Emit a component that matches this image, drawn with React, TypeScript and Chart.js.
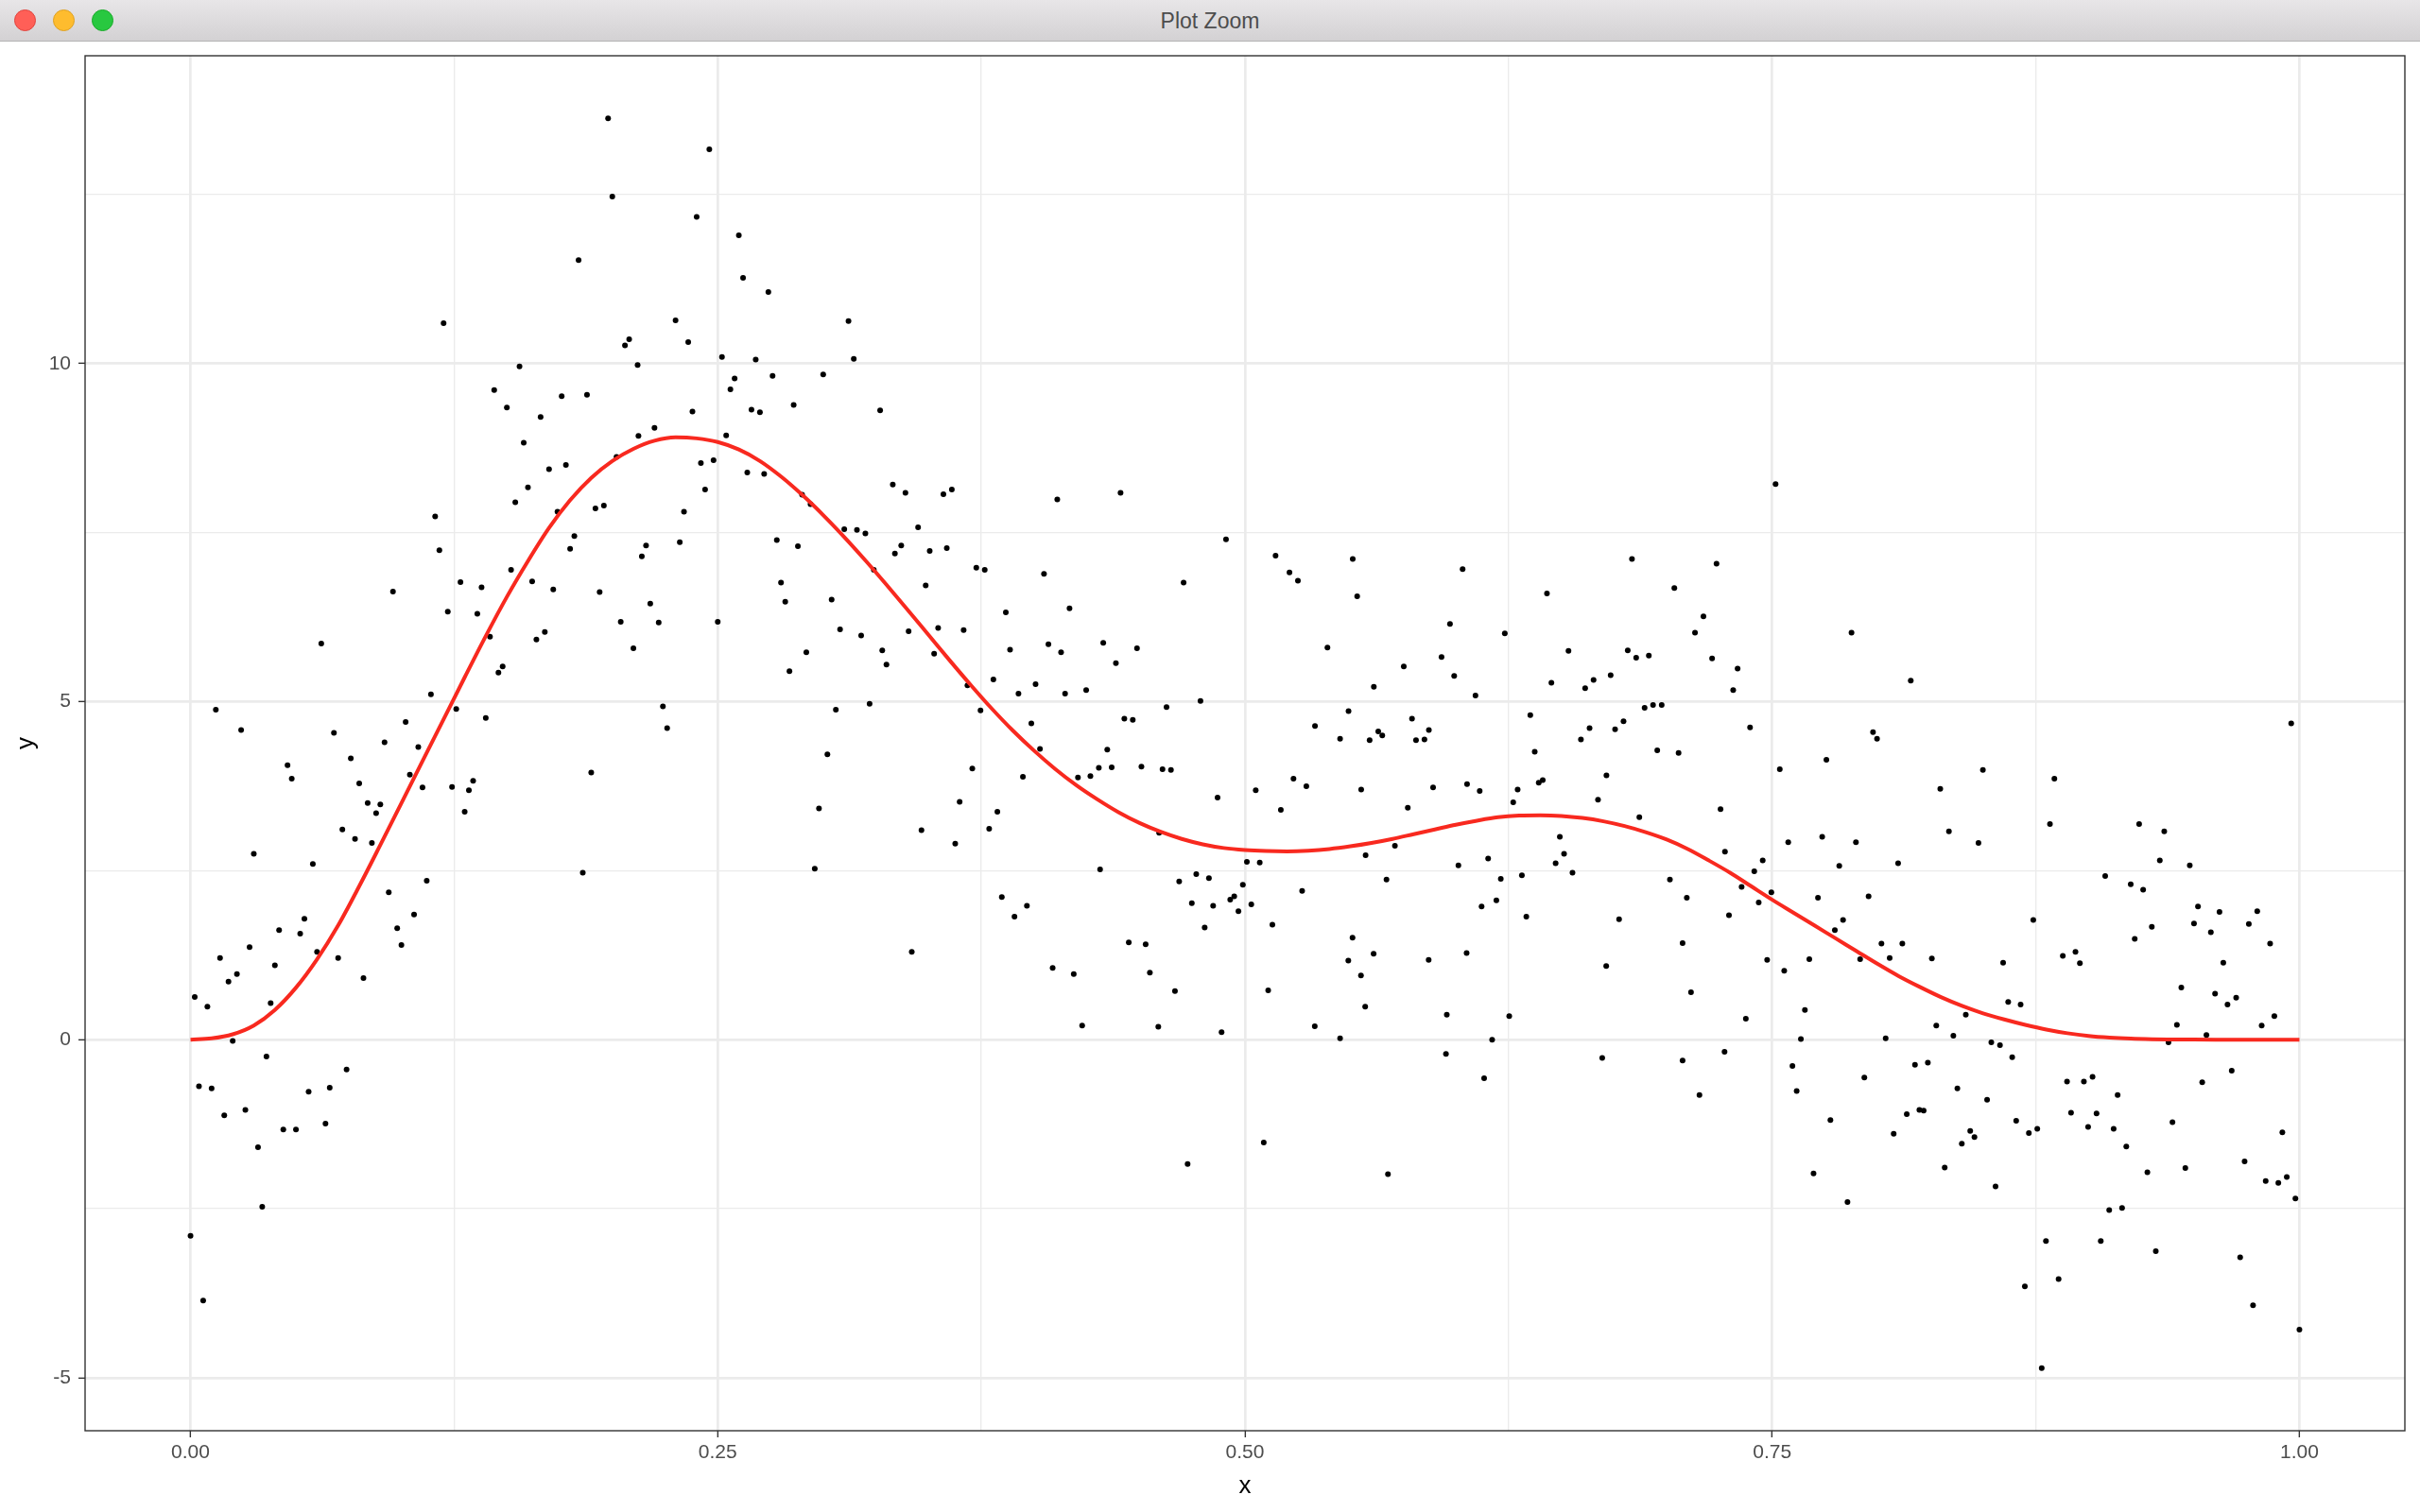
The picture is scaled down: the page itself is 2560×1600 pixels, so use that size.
import React, { useEffect, useRef } from 'react';
import { Chart, registerables } from 'chart.js';

Chart.register(...registerables);

// ---- data ----
const pointX = [
  0.120, 0.156, 0.144, 0.150, 0.166, 0.158, 0.170, 0.160, 0.154, 0.116, 0.118, 0.096, 0.152, 0.128, 0.138, 0.162, 0.122, 0.136, 0.142, 0.164, 0.168, 0.062, 0.148, 0.146, 0.114, 0.012, 0.024, 0.126, 0.140, 0.068, 0.102, 0.092, 0.108,
  0.076, 0.046, 0.048, 0.080, 0.104, 0.110, 0.124, 0.132, 0.134, 0.130, 0.084, 0.090, 0.088, 0.072, 0.078, 0.086, 0.030, 0.058, 0.112, 0.094, 0.054, 0.042, 0.052, 0.106, 0.098, 0.100, 0.014, 0.028, 0.018, 0.022, 0.040, 0.060, 0.070, 0.082, 0.002, 0.008, 0.038, 0.020, 0.036, 0.074, 0.004, 0.010, 0.056, 0.066, 0.016, 0.026, 0.044, 0.050, 0.064, 0.032, 0.034, 0.000, 0.006,
  0.198, 0.246, 0.200, 0.240, 0.260, 0.184, 0.262, 0.274, 0.230, 0.312, 0.206, 0.208, 0.236, 0.212, 0.252, 0.268, 0.3145, 0.258, 0.256, 0.276, 0.300, 0.176, 0.188, 0.238, 0.266, 0.270, 0.286, 0.327, 0.220, 0.2124, 0.254, 0.178, 0.202, 0.242, 0.248, 0.264, 0.272, 0.244, 0.290, 0.294, 0.333, 0.339, 0.174, 0.192, 0.196, 0.234, 0.182, 0.180, 0.214, 0.216, 0.232, 0.278, 0.288, 0.310, 0.316, 0.320, 0.334, 0.337, 0.324, 0.172, 0.194, 0.280, 0.282, 0.304, 0.204, 0.218, 0.222, 0.250, 0.308, 0.318, 0.3405, 0.210, 0.292, 0.328, 0.330, 0.284, 0.224, 0.226, 0.306, 0.322, 0.302,
  0.190, 0.186, 0.298, 0.296, 0.342,
  0.357, 0.361, 0.411, 0.441, 0.345, 0.3505, 0.3586, 0.491, 0.5145, 0.3726, 0.3766, 0.4047, 0.3486, 0.4709, 0.3866, 0.4168, 0.3545, 0.3666, 0.3526, 0.3886, 0.4068, 0.4128, 0.4328, 0.4388, 0.4488, 0.3684, 0.3807, 0.3926, 0.4007, 0.4147, 0.4247, 0.3746, 0.3987, 0.4428, 0.4468, 0.4628, 0.4789, 0.4028, 0.4347,
  0.3707, 0.3647, 0.3466, 0.3626, 0.3787, 0.3826, 0.3947, 0.4208, 0.4267, 0.4307, 0.4368, 0.4509, 0.4609, 0.4649, 0.4870, 0.5051, 0.4593, 0.4313, 0.5009, 0.5070, 0.3847, 0.3966, 0.3907, 0.4688, 0.4769, 0.4829, 0.4748, 0.4849, 0.4809, 0.4930, 0.4949, 0.4990, 0.4969, 0.5030, 0.5130, 0.4088, 0.4188, 0.4449, 0.4529, 0.4549, 0.4668, 0.5110, 0.4228, 0.4589, 0.4889, 0.4728, 0.5089,
  0.5211, 0.5251, 0.5511, 0.5532, 0.6032, 0.6432, 0.6835, 0.5972, 0.6232, 0.5391, 0.5932, 0.6534, 0.6815, 0.6855, 0.5753, 0.5992, 0.5611, 0.6453, 0.6613, 0.6653, 0.6734, 0.6093, 0.5491, 0.5332, 0.5451, 0.5591, 0.5632, 0.5651, 0.5792, 0.5811, 0.5851, 0.5872, 0.6353, 0.6374, 0.6593, 0.6634, 0.6755, 0.6795,
  0.5230, 0.5291, 0.5170, 0.5551, 0.5772, 0.5892, 0.6053, 0.6113, 0.6293, 0.6272, 0.6393, 0.6412, 0.6714, 0.6674, 0.6870, 0.6493, 0.6513, 0.6473, 0.6553, 0.5572, 0.5711, 0.6012, 0.6153, 0.6213, 0.6313, 0.5671, 0.5271, 0.6122, 0.6192, 0.6334, 0.6774, 0.5510, 0.5490, 0.5610, 0.5550, 0.5871, 0.6051, 0.6713, 0.5570, 0.5331, 0.5451, 0.5957, 0.6253, 0.6172, 0.5953, 0.6134, 0.6694, 0.5678,
  0.7516, 0.7236, 0.7036, 0.7174, 0.7134, 0.7876, 0.6915, 0.7215, 0.7336, 0.7315, 0.8157, 0.6895, 0.6935, 0.6976, 0.7395, 0.7978, 0.7997, 0.6955, 0.7056,
  0.7536, 0.7757, 0.8499, 0.8297, 0.7255, 0.7276, 0.7576, 0.7737, 0.7897, 0.8338, 0.8478, 0.7818, 0.8097, 0.7455, 0.7415, 0.7015, 0.7355, 0.7095, 0.7436, 0.7496, 0.7717, 0.7957, 0.7295, 0.7836, 0.7797, 0.7075, 0.8018, 0.8117, 0.7476, 0.7676, 0.7917, 0.8057, 0.8257, 0.8595, 0.7557, 0.7115, 0.7655, 0.7375, 0.8418, 0.8278, 0.8359, 0.7636, 0.8038, 0.8539, 0.8580, 0.7274, 0.7075, 0.7596, 0.8177, 0.8238, 0.7937, 0.7616, 0.8378, 0.7155, 0.8519, 0.8138, 0.8198, 0.8218, 0.7776, 0.8076, 0.8439, 0.8459, 0.8399, 0.7696, 0.8318, 0.8559, 0.7857,
  0.9961, 0.8838, 0.8817, 0.9240, 0.9359, 0.9338, 0.9480, 0.9079, 0.9200, 0.9259, 0.8738, 0.9519, 0.9621, 0.9800, 0.9500, 0.9760, 0.9300, 0.9580, 0.9219, 0.9861, 0.8878, 0.8938, 0.8959, 0.9639, 0.9440, 0.9600, 0.9700, 0.9659, 0.8619, 0.8678, 0.9419, 0.9881, 0.9821, 0.9559, 0.9379, 0.8638, 0.9679, 0.8898, 0.8978, 0.9019, 0.9539, 0.9138, 0.8917, 0.9038, 0.8657, 0.8717, 0.8757, 0.8998, 0.9119, 0.9398, 0.9919, 0.9179, 0.9740, 0.9279, 0.9459, 0.9840, 0.9900, 0.9940, 0.9981, 0.9098, 0.9159, 0.8798, 0.9058, 0.9319, 0.9719, 0.8698, 0.8858, 0.9780, 1.0000, 0.8778,
];

const pointY = [
  10.60, 9.96, 9.61, 9.35, 9.21, 8.83, 8.44, 8.17, 7.95, 7.74, 7.24, 6.63, 6.95, 6.77, 6.69, 6.78, 6.33, 6.30, 5.96, 5.92, 6.03, 5.86, 5.52, 5.43, 5.11, 4.88, 4.58, 4.89, 4.76, 4.54, 4.70, 4.40, 4.33,
  4.16, 4.06, 3.86, 3.79, 3.92, 3.73, 3.74, 3.69, 3.83, 3.37, 3.50, 3.48, 3.35, 3.11, 2.97, 2.91, 2.75, 2.60, 2.35, 2.18, 1.79, 1.62, 1.57, 1.85, 1.65, 1.40, 1.21, 1.37, 0.86, 0.97, 1.10, 1.30, 1.21, 0.91, 0.63, 0.49, 0.54, -0.02, -0.25, -0.44, -0.69, -0.72, -0.77, -0.71, -1.12, -1.04, -1.33, -1.33, -1.24, -1.59, -2.47, -2.90, -3.86,
  13.63, 13.17, 12.47, 12.17, 11.90, 11.53, 11.27, 11.06, 10.64, 10.63, 10.27, 10.36, 10.32, 9.98, 10.10, 10.06, 10.07, 9.78, 9.62, 9.82, 9.84, 9.52, 9.54, 9.29, 9.32, 9.28, 9.39, 9.31, 9.05, 8.93, 8.94, 8.50, 8.62, 8.53, 8.57, 8.39, 8.37, 8.14, 8.06, 7.92, 8.21, 8.09, 7.81, 7.86, 7.90, 7.81, 7.45, 7.26, 7.15, 7.31, 7.36, 7.39, 7.30, 7.55, 7.54, 7.49, 7.19, 7.31, 6.95, 6.66, 6.62, 6.76, 6.48, 6.51, 6.18, 6.45, 6.17, 6.18, 6.07, 5.98, 6.04, 5.79, 5.73, 5.76, 5.55, 5.45, 4.93, 4.61, 4.88, 4.97, 4.22,
  3.95, 2.47, 3.42, 2.53, 1.30,
  8.07, 8.14, 7.99, 8.09, 7.58, 7.23, 7.27, 7.40, 7.16, 6.98, 6.95, 6.89, 6.72, 6.76, 6.32, 6.38, 6.09, 6.06, 5.71, 5.77, 5.85, 5.73, 5.87, 5.57, 5.79, 5.24, 5.33, 5.12, 5.26, 5.12, 5.17, 4.87, 4.68, 4.75, 4.73, 4.92, 5.01, 4.30, 4.29,
  4.01, 3.52, 3.10, 2.90, 3.12, 3.37, 3.89, 3.88, 3.90, 4.02, 4.03, 4.04, 4.00, 3.99, 3.58, 3.69, 3.06, 2.52, 2.63, 2.62, 2.11, 1.98, 1.82, 2.34, 2.45, 2.39, 2.02, 1.98, 1.66, 2.07, 2.12, 2.29, 1.90, 2.00, 1.70, 1.06, 0.97, 1.44, 1.41, 0.99, 0.72, 0.73, 0.21, 0.19, 0.11, -1.84, -1.52,
  6.91, 6.79, 7.11, 6.56, 6.96, 6.60, 7.11, 6.15, 6.01, 5.80, 5.66, 5.75, 5.76, 5.65, 5.52, 5.38, 5.22, 5.28, 5.20, 5.32, 5.39, 5.09, 4.86, 4.64, 4.45, 4.43, 4.56, 4.50, 4.75, 4.43, 4.44, 4.58, 4.80, 4.26, 4.44, 4.61, 4.59, 4.71,
  3.86, 3.75, 3.40, 3.70, 3.43, 3.73, 3.78, 3.68, 3.70, 3.51, 3.80, 3.84, 3.91, 3.55, 3.29, 3.00, 2.75, 2.61, 2.47, 2.73, 2.87, 2.58, 2.68, 2.38, 2.43, 2.37, 2.20, 1.97, 2.06, 1.82, 1.78, 1.51, 1.17, 1.27, 0.95, 1.18, 1.28, 1.09, 0.49, 0.20, 0.02, 0.37, 0.35, 0.00, -0.21, -0.57, -0.27, -1.99,
  8.22, 7.04, 6.68, 6.26, 6.02, 6.02, 5.68, 5.64, 5.49, 5.17, 5.31, 4.91, 4.95, 4.95, 4.62, 4.55, 4.45, 4.28, 4.24,
  4.00, 4.14, 3.99, 3.71, 3.41, 2.78, 2.92, 3.00, 2.92, 3.08, 2.91, 2.57, 2.61, 2.65, 2.49, 2.37, 2.26, 2.10, 2.03, 2.18, 2.10, 2.12, 1.84, 1.77, 1.62, 1.43, 1.42, 1.42, 1.18, 1.19, 1.19, 1.21, 1.20, 1.14, 1.02, 0.70, 0.44, 0.31, 0.37, 0.21, 0.06, 0.01, 0.02, -0.04, -0.08, -0.18, -0.31, -0.39, -0.37, -0.34, -0.56, -0.76, -0.72, -0.82, -0.89, -1.10, -1.04, -1.05, -1.19, -1.39, -1.35, -1.44, -1.54, -1.98, -1.89, -2.17, -2.40,
  4.68, 3.86, 3.19, 3.19, 3.08, 2.65, 2.58, 2.42, 2.30, 2.22, 1.77, 1.97, 1.89, 1.90, 1.72, 1.71, 1.67, 1.59, 1.49, 1.42, 1.24, 1.30, 1.13, 1.14, 0.77, 0.68, 0.62, 0.52, 0.56, 0.52, 0.22, 0.35, 0.21, 0.07, -0.04, -0.26, -0.46, -0.62, -0.62, -0.55, -0.63, -0.82, -1.08, -1.09, -1.20, -1.38, -1.32, -1.29, -1.32, -1.22, -1.37, -1.58, -1.80, -1.96, -1.90, -2.09, -2.12, -2.03, -2.35, -2.52, -2.49, -2.98, -2.98, -3.13, -3.22, -3.65, -3.54, -3.93, -4.29, -4.86,
];

// red curve, read every 0.01 along x
const curveX = [
  0.00, 0.01, 0.02, 0.03, 0.04, 0.05, 0.06, 0.07, 0.08, 0.09,
  0.10, 0.11, 0.12, 0.13, 0.14, 0.15, 0.16, 0.17, 0.18, 0.19,
  0.20, 0.21, 0.22, 0.23, 0.24, 0.25, 0.26, 0.27, 0.28, 0.29,
  0.30, 0.31, 0.32, 0.33, 0.34, 0.35, 0.36, 0.37, 0.38, 0.39,
  0.40, 0.41, 0.42, 0.43, 0.44, 0.45, 0.46, 0.47, 0.48, 0.49,
  0.50, 0.51, 0.52, 0.53, 0.54, 0.55, 0.56, 0.57, 0.58, 0.59,
  0.60, 0.61, 0.62, 0.63, 0.64, 0.65, 0.66, 0.67, 0.68, 0.69,
  0.70, 0.71, 0.72, 0.73, 0.74, 0.75, 0.76, 0.77, 0.78, 0.79,
  0.80, 0.81, 0.82, 0.83, 0.84, 0.85, 0.86, 0.87, 0.88, 0.89,
  0.90, 0.91, 0.92, 0.93, 0.94, 0.95, 0.96, 0.97, 0.98, 0.99,
  1.00,
];
const curveY = [
  0.00, 0.02, 0.08, 0.21, 0.44, 0.77, 1.19, 1.69, 2.27, 2.88,
  3.50, 4.12, 4.74, 5.36, 5.97, 6.55, 7.08, 7.57, 7.98, 8.31,
  8.56, 8.74, 8.86, 8.91, 8.895, 8.84, 8.73, 8.56, 8.33, 8.06,
  7.76, 7.435, 7.09, 6.73, 6.36, 5.985, 5.61, 5.245, 4.895, 4.57,
  4.275, 4.005, 3.765, 3.555, 3.365, 3.205, 3.075, 2.97, 2.89, 2.835,
  2.805, 2.79, 2.785, 2.795, 2.82, 2.86, 2.91, 2.97, 3.04, 3.11,
  3.18, 3.24, 3.29, 3.315, 3.32, 3.31, 3.28, 3.23, 3.16, 3.07,
  2.96, 2.82, 2.65, 2.47, 2.27, 2.07, 1.88, 1.69, 1.50, 1.31,
  1.12, 0.94, 0.78, 0.63, 0.50, 0.39, 0.30, 0.22, 0.15, 0.095,
  0.055, 0.03, 0.015, 0.007, 0.003, 0.001, 0.00, 0.00, 0.00, 0.00,
  0.00,
];

const xGridValues = [0, 0.125, 0.25, 0.375, 0.5, 0.625, 0.75, 0.875, 1];
const xMajorValues = [0, 0.25, 0.5, 0.75, 1];
const xTickLabels = ['0.00', '0.25', '0.50', '0.75', '1.00'];
const yGridValues = [-5, -2.5, 0, 2.5, 5, 7.5, 10, 12.5];
const yMajorValues = [-5, 0, 5, 10];
const yTickLabels = ['-5', '0', '5', '10'];
const xTitle = 'x';
const yTitle = 'y';
const windowTitle = 'Plot Zoom';

const FONT = '"Liberation Sans", Arial, Helvetica, sans-serif';

export default function App() {
  const canvasRef = useRef<HTMLCanvasElement>(null);

  useEffect(() => {
    const canvas = canvasRef.current;
    if (!canvas) return;
    const allX = pointX.concat(curveX);
    const allY = pointY.concat(curveY);
    const xMin = Math.min(...allX);
    const xMax = Math.max(...allX);
    const yMin = Math.min(...allY);
    const yMax = Math.max(...allY);
    const xPad = (xMax - xMin) * 0.05;
    const yPad = (yMax - yMin) * 0.05;

    const panelBorder = {
      id: 'panelBorder',
      afterDatasetsDraw(chart: any) {
        const { ctx, chartArea } = chart;
        ctx.save();
        ctx.strokeStyle = '#333333';
        ctx.lineWidth = 1.4;
        ctx.strokeRect(chartArea.left, chartArea.top, chartArea.right - chartArea.left, chartArea.bottom - chartArea.top);
        ctx.restore();
      },
    };

    const isMajorX = (v: number) => xMajorValues.indexOf(v) >= 0;
    const isMajorY = (v: number) => yMajorValues.indexOf(v) >= 0;

    const chart = new Chart(canvas, {
      type: 'scatter',
      data: {
        datasets: [
          {
            type: 'line',
            data: curveX.map((x, i) => ({ x, y: curveY[i] })),
            borderColor: '#F8291F',
            borderWidth: 4,
            pointRadius: 0,
            cubicInterpolationMode: 'monotone',
            fill: false,
            order: 0,
          } as any,
          {
            type: 'scatter',
            data: pointX.map((x, i) => ({ x, y: pointY[i] })),
            backgroundColor: '#000000',
            borderWidth: 0,
            pointRadius: 3,
            order: 1,
          } as any,
        ],
      },
      options: {
        responsive: false,
        animation: false,
        devicePixelRatio: 1,
        layout: { padding: { left: 0, top: 59, right: 16, bottom: 0 } },
        plugins: { legend: { display: false }, tooltip: { enabled: false } },
        scales: {
          x: {
            type: 'linear',
            position: 'bottom',
            min: xMin - xPad,
            max: xMax + xPad,
            afterBuildTicks: (s: any) => {
              s.ticks = xGridValues.map((v) => ({ value: v }));
            },
            afterFit: (s: any) => {
              s.height = 86;
            },
            ticks: {
              autoSkip: false,
              maxRotation: 0,
              padding: 4,
              color: '#4D4D4D',
              font: { family: FONT, size: 21 },
              callback: (v: any) => {
                const i = xMajorValues.indexOf(Number(v));
                return i >= 0 ? xTickLabels[i] : '';
              },
            },
            grid: {
              color: '#EBEBEB',
              lineWidth: (c: any) => (isMajorX(c.tick?.value) ? 2.7 : 1.35),
              tickLength: 7,
              tickWidth: 1.4,
              tickColor: (c: any) => (isMajorX(c.tick?.value) ? '#333333' : 'rgba(0,0,0,0)'),
            },
            border: { display: false },
            title: {
              display: true,
              text: xTitle,
              color: '#000000',
              font: { family: FONT, size: 26 },
              padding: { top: 0, bottom: 12 },
            },
          },
          y: {
            type: 'linear',
            position: 'left',
            min: yMin - yPad,
            max: yMax + yPad,
            afterBuildTicks: (s: any) => {
              s.ticks = yGridValues.map((v) => ({ value: v }));
            },
            afterFit: (s: any) => {
              s.width = 90;
            },
            ticks: {
              autoSkip: false,
              padding: 8,
              color: '#4D4D4D',
              font: { family: FONT, size: 21 },
              callback: (v: any) => {
                const i = yMajorValues.indexOf(Number(v));
                return i >= 0 ? yTickLabels[i] : '';
              },
            },
            grid: {
              color: '#EBEBEB',
              lineWidth: (c: any) => (isMajorY(c.tick?.value) ? 2.7 : 1.35),
              tickLength: 7,
              tickWidth: 1.4,
              tickColor: (c: any) => (isMajorY(c.tick?.value) ? '#333333' : 'rgba(0,0,0,0)'),
            },
            border: { display: false },
            title: {
              display: true,
              text: yTitle,
              color: '#000000',
              font: { family: FONT, size: 26 },
              padding: { top: 12, bottom: 0 },
            },
          },
        },
      } as any,
      plugins: [panelBorder],
    });

    return () => chart.destroy();
  }, []);

  const light = (left: number, color: string, border: string) => (
    <div
      style={{
        position: 'absolute',
        left: left - 11.5,
        top: 21 - 11.5,
        width: 23,
        height: 23,
        borderRadius: '50%',
        background: color,
        boxSizing: 'border-box',
        border: `1px solid ${border}`,
      }}
    />
  );

  return (
    <div style={{ position: 'fixed', left: 0, top: 0, width: 2560, height: 1600, background: '#FFFFFF', overflow: 'hidden' }}>
      <canvas ref={canvasRef} width={2560} height={1600} style={{ position: 'absolute', left: 0, top: 0, width: 2560, height: 1600, display: 'block' }} />
      <div
        style={{
          position: 'absolute',
          left: 0,
          top: 0,
          width: 2560,
          height: 44,
          background: 'linear-gradient(#E8E6E8, #D3D1D3)',
          borderBottom: '1px solid #B4B4B4',
          boxSizing: 'border-box',
        }}
      >
        {light(26, '#FF5F57', '#E0443E')}
        {light(67, '#FEBC2E', '#DEA123')}
        {light(108, '#28C840', '#1AAB29')}
        <div
          style={{
            position: 'absolute',
            left: 0,
            top: 0,
            width: 2560,
            height: 44,
            lineHeight: '44px',
            textAlign: 'center',
            fontFamily: FONT,
            fontSize: 23,
            color: '#4D4D4D',
          }}
        >
          {windowTitle}
        </div>
      </div>
    </div>
  );
}
